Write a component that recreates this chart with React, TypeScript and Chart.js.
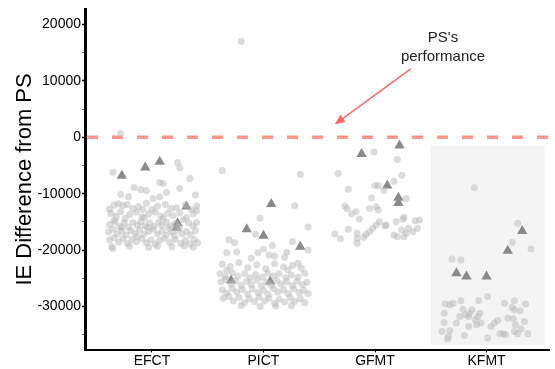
import React, { useEffect, useRef } from 'react';
import Chart from 'chart.js/auto';

const categories = ['EFCT', 'PICT', 'GFMT', 'KFMT'];
const categoryPositions = [1, 2, 3, 4];
const yTicks = [-35000, -30000, -25000, -20000, -15000, -10000, -5000, 0, 5000, 10000, 15000, 20000];
const yRange = [-37600, 22650];
const xRange = [0.4, 4.56];
const psLevel = 0;
const shadeBox = [3.5, 4.52, -1500, -36800];
const annotationLines = ["PS's", 'performance'];

// [x (category position + jitter), IE difference]
const efctPoints: number[][] = [
  [0.72, 650], [0.65, -6180], [1.23, -4470], [1.25, -5420], [1.34, -7300], [1.07, -8000], [1.10, -8180],
  [0.84, -8890], [0.90, -9240], [0.95, -9420], [1.13, -9770], [1.25, -9060], [0.72, -10130], [0.79, -10540],
  [1.01, -10830], [1.07, -10540], [1.39, -10250], [1.40, -12190], [1.40, -13020], [0.92, -12780],
  [0.66, -12000], [0.70, -11800], [0.74, -12100], [0.78, -11900], [0.88, -12300], [0.95, -11700], [1.05, -12200],
  [1.12, -11900], [1.22, -12500], [1.30, -12000], [0.62, -12700], [0.83, -12600], [1.00, -12800], [1.17, -12600], [1.35, -12800],
  [0.63, -13500], [0.68, -14000], [0.72, -13200], [0.80, -13700], [0.86, -13300], [0.91, -14100], [0.97, -13600],
  [1.03, -13300], [1.08, -14000], [1.14, -13500], [1.19, -13900], [1.25, -13400], [1.31, -14200], [1.37, -13600],
  [0.76, -14400], [0.93, -14300], [1.10, -14400], [1.28, -14600], [0.66, -14700],
  [0.62, -15500], [0.67, -15000], [0.71, -15800], [0.75, -15200], [0.79, -15900], [0.83, -15100], [0.87, -15600],
  [0.90, -15000], [0.94, -15700], [0.98, -15200], [1.02, -15800], [1.06, -15100], [1.09, -15600], [1.13, -15000],
  [1.17, -15700], [1.21, -15300], [1.25, -15900], [1.33, -15200], [1.37, -15700], [1.40, -15100], [0.73, -16000],
  [0.96, -16000], [1.15, -16100],
  [0.61, -16800], [0.65, -16300], [0.69, -17100], [0.73, -16600], [0.77, -17300], [0.81, -16500], [0.85, -17000],
  [0.89, -16400], [0.93, -17200], [0.97, -16700], [1.01, -16300], [1.05, -17100], [1.09, -16600], [1.13, -17300],
  [1.18, -16800], [1.23, -16400], [1.27, -17100], [1.31, -16700], [1.35, -17300], [1.39, -16500], [0.87, -17600], [1.20, -17500],
  [0.62, -18200], [0.66, -17800], [0.70, -18600], [0.74, -18000], [0.78, -18800], [0.82, -18100], [0.86, -18500],
  [0.91, -18000], [0.95, -18700], [0.99, -18200], [1.03, -18900], [1.07, -18300], [1.11, -17900], [1.16, -18600],
  [1.21, -18100], [1.26, -18800], [1.30, -18300], [1.34, -18900], [1.38, -18200], [1.41, -18700], [0.64, -19400],
  [0.80, -19300], [0.97, -19500], [1.05, -19300], [1.18, -19400], [1.29, -19200], [1.37, -19500], [0.65, -19700],
];
const efctTriangles: number[][] = [
  [0.73, -6840], [0.94, -5360], [1.07, -4360], [1.31, -12250], [1.23, -15250], [1.22, -16020],
];

const pictPoints: number[][] = [
  [1.80, 17020], [1.63, -5890], [2.33, -6600], [2.28, -12140], [1.97, -14370], [2.40, -15900], [1.93, -17180],
  [1.69, -18140], [1.74, -18660], [2.26, -18480], [2.08, -19190], [2.00, -19790], [1.67, -20440], [1.76, -20320],
  [2.21, -20380], [2.40, -19970], [1.95, -20440], [2.05, -20850], [1.89, -21440], [2.10, -21030], [2.19, -21270], [2.31, -22320],
  [1.63, -22500], [1.70, -22900], [1.78, -22200], [1.86, -23100], [1.94, -22600], [2.02, -23300], [2.10, -22400],
  [2.18, -23000], [2.26, -22700], [2.34, -23200], [1.67, -23600], [2.22, -23500],
  [1.61, -24200], [1.66, -24700], [1.72, -24000], [1.77, -24600], [1.83, -24200], [1.88, -24900], [1.93, -24300],
  [1.99, -24800], [2.04, -24100], [2.09, -24600], [2.14, -24200], [2.20, -24900], [2.25, -24400], [2.31, -24800], [2.37, -24100],
  [1.62, -25600], [1.66, -25200], [1.71, -26000], [1.75, -25400], [1.80, -26200], [1.85, -25500], [1.89, -26100],
  [1.94, -25300], [1.98, -26300], [2.03, -25700], [2.07, -26200], [2.12, -25400], [2.16, -26000], [2.21, -25600],
  [2.26, -26300], [2.30, -25500], [2.35, -26100], [2.39, -25700],
  [1.63, -27000], [1.67, -27600], [1.72, -26800], [1.76, -27400], [1.81, -27000], [1.86, -27800], [1.90, -26900],
  [1.95, -27500], [2.00, -27100], [2.04, -27800], [2.09, -26800], [2.13, -27400], [2.18, -27000], [2.22, -27700],
  [2.27, -26900], [2.32, -27500], [2.36, -27100], [2.40, -27700],
  [1.64, -28500], [1.69, -28200], [1.73, -29000], [1.78, -28400], [1.83, -29300], [1.87, -28600], [1.92, -29100],
  [1.96, -28300], [2.01, -29000], [2.05, -28500], [2.10, -29400], [2.14, -28700], [2.19, -29200], [2.24, -28400],
  [2.28, -29100], [2.33, -28600], [2.37, -29300], [1.80, -29800], [1.97, -30000], [2.11, -29900], [2.25, -29800],
];
const pictTriangles: number[][] = [
  [2.07, -11840], [1.85, -16310], [2.00, -17440], [2.33, -19380], [1.71, -25390], [2.06, -25560],
];

const gfmtPoints: number[][] = [
  [2.99, -2590], [3.20, -3950], [2.67, -6420], [3.24, -6710], [2.76, -9190], [3.00, -8540], [3.03, -8540],
  [3.17, -7780], [3.08, -9370], [2.97, -10720], [3.28, -10830], [2.73, -12190], [2.75, -12600], [2.95, -12600],
  [3.01, -12310], [3.03, -12900], [2.83, -13200], [2.79, -13600], [2.86, -14490], [3.04, -14960], [3.26, -14170],
  [3.25, -14520], [3.36, -14780], [3.40, -14670], [3.01, -15550], [2.98, -16130], [2.95, -16730], [2.92, -17180],
  [3.19, -14960], [3.10, -15550], [3.30, -16130], [3.24, -16430], [3.38, -16130], [2.76, -16290], [2.64, -17140],
  [2.69, -17970], [2.84, -17000], [2.84, -17900], [2.84, -18780], [2.90, -17730], [3.17, -17320], [3.20, -17620],
  [3.34, -16730], [3.09, -15730], [3.28, -17020], [3.26, -17620],
];
const gfmtTriangles: number[][] = [
  [2.88, -2950], [3.22, -1470], [3.11, -8540], [3.21, -10720], [3.21, -11660],
];

const kfmtPoints: number[][] = [
  [3.89, -8950], [4.28, -15250], [4.23, -18600], [4.40, -19790], [3.69, -21560], [3.77, -21740], [4.01, -28220],
  [3.63, -29560], [3.67, -29690], [3.70, -29390], [3.77, -28980], [3.93, -28920], [4.16, -29390], [4.25, -28980],
  [4.35, -29560], [3.79, -30450], [3.87, -30570], [3.62, -31160], [3.94, -31160], [3.85, -31160], [3.84, -31750],
  [3.76, -31750], [4.25, -30570], [4.30, -30740], [4.23, -30100], [4.19, -32040], [4.24, -32160], [4.26, -33220],
  [4.34, -32630], [4.10, -32460], [4.07, -32920], [4.04, -33510], [3.90, -32340], [3.91, -33220], [3.95, -32920],
  [3.73, -32920], [3.62, -32810], [3.84, -33510], [3.60, -34400], [3.67, -34280], [3.66, -35270], [3.65, -35750],
  [3.80, -35100], [4.01, -35570], [4.12, -34810], [4.15, -34810], [4.17, -34990], [4.25, -34400], [4.31, -33980],
  [4.37, -34810], [4.28, -34810], [3.81, -31450], [3.92, -31750],
];
const kfmtTriangles: number[][] = [
  [3.73, -24090], [3.82, -24680], [4.00, -24680], [4.19, -20090], [4.32, -16610],
];

// annotation anchors in data units
const annotationAnchor = [3.61, 16800, 13450];
const arrowFrom = [3.32, 12100];
const arrowTo = [2.64, 2300];

const FONT = '"Liberation Sans", Arial, Helvetica, sans-serif';

const toXY = (arr: number[][]) => arr.map(([x, y]) => ({ x, y }));

const overlayPlugin = {
  id: 'overlay',
  beforeDatasetsDraw(chart: any) {
    const { ctx, scales, chartArea } = chart;
    const xs = scales.x;
    const ys = scales.y;
    ctx.save();
    const rx0 = xs.getPixelForValue(shadeBox[0]);
    const rx1 = xs.getPixelForValue(shadeBox[1]);
    const ry0 = ys.getPixelForValue(shadeBox[2]);
    const ry1 = ys.getPixelForValue(shadeBox[3]);
    ctx.fillStyle = '#F4F4F4';
    ctx.fillRect(rx0, ry0, rx1 - rx0, ry1 - ry0);
    const yz = ys.getPixelForValue(psLevel);
    ctx.strokeStyle = '#FF968C';
    ctx.lineWidth = 3.5;
    ctx.setLineDash([11, 14]);
    ctx.beginPath();
    ctx.moveTo(chartArea.left + 2, yz);
    ctx.lineTo(chartArea.right, yz);
    ctx.stroke();
    ctx.restore();
  },
  afterDatasetsDraw(chart: any) {
    const { ctx, scales } = chart;
    const xs = scales.x;
    const ys = scales.y;
    ctx.save();
    const x0 = xs.getPixelForValue(arrowFrom[0]);
    const y0 = ys.getPixelForValue(arrowFrom[1]);
    const x1 = xs.getPixelForValue(arrowTo[0]);
    const y1 = ys.getPixelForValue(arrowTo[1]);
    const ang = Math.atan2(y1 - y0, x1 - x0);
    const headLen = 10;
    const headW = 4.5;
    ctx.strokeStyle = '#FF6A64';
    ctx.fillStyle = '#FF6A64';
    ctx.lineWidth = 1.5;
    ctx.beginPath();
    ctx.moveTo(x0, y0);
    ctx.lineTo(x1 - Math.cos(ang) * headLen * 0.8, y1 - Math.sin(ang) * headLen * 0.8);
    ctx.stroke();
    const bx = x1 - Math.cos(ang) * headLen;
    const by = y1 - Math.sin(ang) * headLen;
    ctx.beginPath();
    ctx.moveTo(x1, y1);
    ctx.lineTo(bx + Math.sin(ang) * headW, by - Math.cos(ang) * headW);
    ctx.lineTo(bx - Math.sin(ang) * headW, by + Math.cos(ang) * headW);
    ctx.closePath();
    ctx.fill();
    ctx.fillStyle = '#222';
    ctx.font = '15px ' + FONT;
    ctx.textAlign = 'center';
    ctx.textBaseline = 'alphabetic';
    const tx = xs.getPixelForValue(annotationAnchor[0]);
    ctx.fillText(annotationLines[0], tx, ys.getPixelForValue(annotationAnchor[1]));
    ctx.fillText(annotationLines[1], tx, ys.getPixelForValue(annotationAnchor[2]));
    ctx.restore();
  },
};

export default function App() {
  const canvasRef = useRef<HTMLCanvasElement | null>(null);

  useEffect(() => {
    document.body.style.margin = '0';
    const canvas = canvasRef.current;
    if (!canvas) return;

    const pointStyle = {
      pointRadius: 3.5,
      pointBackgroundColor: 'rgba(185,185,185,0.5)',
      pointBorderWidth: 0,
      showLine: false,
    };
    const triStyle = {
      pointRadius: 6,
      pointStyle: 'triangle',
      pointBackgroundColor: '#8A8A8A',
      pointBorderWidth: 0,
      showLine: false,
    };

    const chart = new Chart(canvas, {
      type: 'scatter',
      data: {
        datasets: [
          { label: 'EFCT', data: toXY(efctPoints), ...pointStyle },
          { label: 'PICT', data: toXY(pictPoints), ...pointStyle },
          { label: 'GFMT', data: toXY(gfmtPoints), ...pointStyle },
          { label: 'KFMT', data: toXY(kfmtPoints), ...pointStyle },
          { label: 'EFCT mean', data: toXY(efctTriangles), ...triStyle },
          { label: 'PICT mean', data: toXY(pictTriangles), ...triStyle },
          { label: 'GFMT mean', data: toXY(gfmtTriangles), ...triStyle },
          { label: 'KFMT mean', data: toXY(kfmtTriangles), ...triStyle },
        ] as any,
      },
      options: {
        animation: false,
        responsive: false,
        maintainAspectRatio: false,
        layout: { padding: { top: 9, left: 0, right: 0, bottom: 0 } },
        plugins: { legend: { display: false }, tooltip: { enabled: false } },
        scales: {
          x: {
            type: 'linear',
            min: xRange[0],
            max: xRange[1],
            afterBuildTicks: (s: any) => {
              s.ticks = categoryPositions.map((v) => ({ value: v }));
            },
            afterFit: (s: any) => {
              s.height = 19.5;
            },
            ticks: {
              autoSkip: false,
              maxRotation: 0,
              padding: 0,
              color: '#000',
              font: { family: FONT, size: 14 },
              callback: (v: any) => {
                const i = categoryPositions.indexOf(Number(v));
                return i >= 0 ? categories[i] : '';
              },
            },
            grid: { drawOnChartArea: false, drawTicks: true, tickLength: 3, tickColor: '#000', tickWidth: 1 },
            border: { display: true, color: '#000', width: 2 },
          },
          y: {
            type: 'linear',
            min: yRange[0],
            max: yRange[1],
            afterBuildTicks: (s: any) => {
              s.ticks = yTicks.map((v) => ({ value: v }));
            },
            afterFit: (s: any) => {
              s.width = 85;
            },
            title: {
              display: true,
              text: 'IE Difference from PS',
              color: '#000',
              font: { family: FONT, size: 22 },
              padding: { top: 12, bottom: 0 },
            },
            ticks: {
              autoSkip: false,
              padding: 1,
              color: '#000',
              font: { family: FONT, size: 14 },
              callback: (v: any) => (Number(v) % 10000 === 0 ? String(v) : ''),
            },
            grid: {
              drawOnChartArea: false,
              drawTicks: true,
              tickLength: 3,
              tickColor: (c: any) => (c.tick && c.tick.value % 10000 === 0 ? '#000' : '#666'),
              tickWidth: (c: any) => (c.tick && c.tick.value % 10000 === 0 ? 1.5 : 1),
            },
            border: { display: true, color: '#000', width: 3 },
          },
        },
      } as any,
      plugins: [overlayPlugin as any],
    });

    return () => {
      chart.destroy();
    };
  }, []);

  return (
    <div style={{ width: 555, height: 369 }}>
      <canvas ref={canvasRef} width={555} height={369} style={{ display: 'block' }} />
    </div>
  );
}
